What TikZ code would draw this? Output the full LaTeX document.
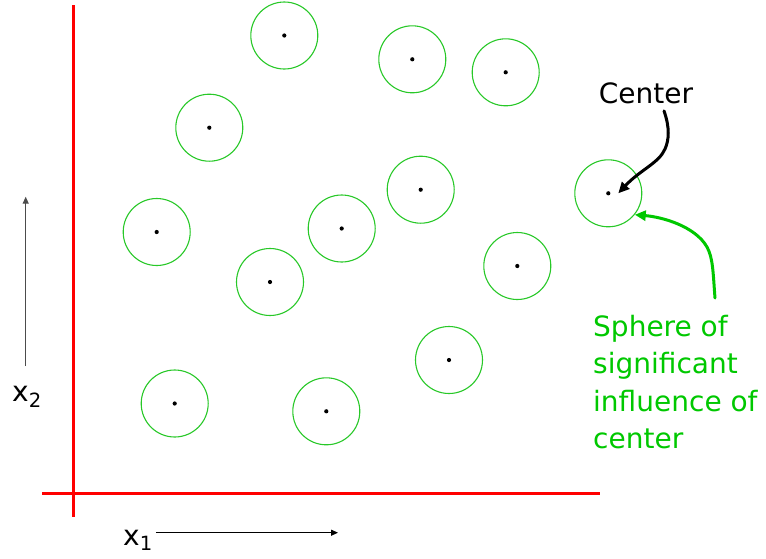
\documentclass[tikz,border=0pt]{standalone}
\usepackage{fontspec}
\setmainfont{DejaVu Sans}
\usepackage{tikz}
\usetikzlibrary{arrows.meta, positioning, calc}
\definecolor{sphgreen}{RGB}{40,200,40}
\definecolor{txtgreen}{RGB}{0,200,0}
\definecolor{axred}{RGB}{255,0,0}

\begin{document}
\begin{tikzpicture}[x=1pt, y=-1pt,
      sphere/.style={circle, draw=sphgreen, line width=1.1pt, minimum size=67pt, inner sep=0pt,
        path picture={\fill (path picture bounding box.center) circle (2.1pt);}},
      lbl/.style={font=\fontsize{28}{37.3}\selectfont, inner sep=0pt},
      axarr/.style={-{Triangle[length=7pt, width=6pt]}, line width=1.1pt},
      bigarr/.style={-{Triangle[length=11pt, width=10pt]}, line width=3pt, line cap=round},
    ]
    \useasboundingbox (0,0) rectangle (766,558);
    % axes
    \draw[axred, line width=3pt] (73.3,5) -- (73.3,517);
    \draw[axred, line width=3pt] (42,493.3) -- (600,493.3);
    % spheres
    \node[sphere] (s1) at (284.3,35.5) {};
    \node[sphere] (s2) at (412.3,59.3) {};
    \node[sphere] (s3) at (505.7,72.3) {};
    \node[sphere] (s4) at (209.3,127.7) {};
    \node[sphere] (s5) at (420.7,189.7) {};
    \node[sphere] (s6) at (608.3,193.3) {};
    \node[sphere] (s7) at (156.7,232) {};
    \node[sphere] (s8) at (341.7,228.5) {};
    \node[sphere] (s9) at (270,282) {};
    \node[sphere] (s10) at (517.3,266) {};
    \node[sphere] (s11) at (449,360) {};
    \node[sphere] (s12) at (174.7,403.5) {};
    \node[sphere] (s13) at (326.3,411.3) {};
    % axis labels
    \node[lbl, anchor=base west] (x1lab) at (123,545) {x\textsubscript{1}};
    \coordinate (x1end) at (338,532.7);
    \draw[axarr] ([xshift=3pt]x1lab.east |- x1end) -- (x1end);
    \node[lbl, anchor=base west] (x2lab) at (12,401.7) {x\textsubscript{2}};
    \coordinate (x2end) at (25.7,196.7);
    \draw[axarr, black!70] ([yshift=20pt]x2lab.north -| x2end) -- (x2end);
    % callouts
    \node[lbl, anchor=base] (ctr) at (646,103.3) {Center};
    \draw[bigarr] ([xshift=18pt, yshift=-7pt]ctr.south) .. controls (670,128) and (669,140) .. (665,149)
      .. controls (659,163) and (640,170) .. ([xshift=10pt]s6.center);
    \node[lbl, txtgreen, anchor=north west, align=left] (sph) at (593,315)
      {Sphere of\\significant\\influence of\\center};
    \draw[bigarr, txtgreen] ([xshift=122pt, yshift=17pt]sph.north west) .. controls (713,272) and (713,258) .. (707,247)
      .. controls (695,226) and (662,217) .. (s6.-39);
  \end{tikzpicture}
\end{document}
